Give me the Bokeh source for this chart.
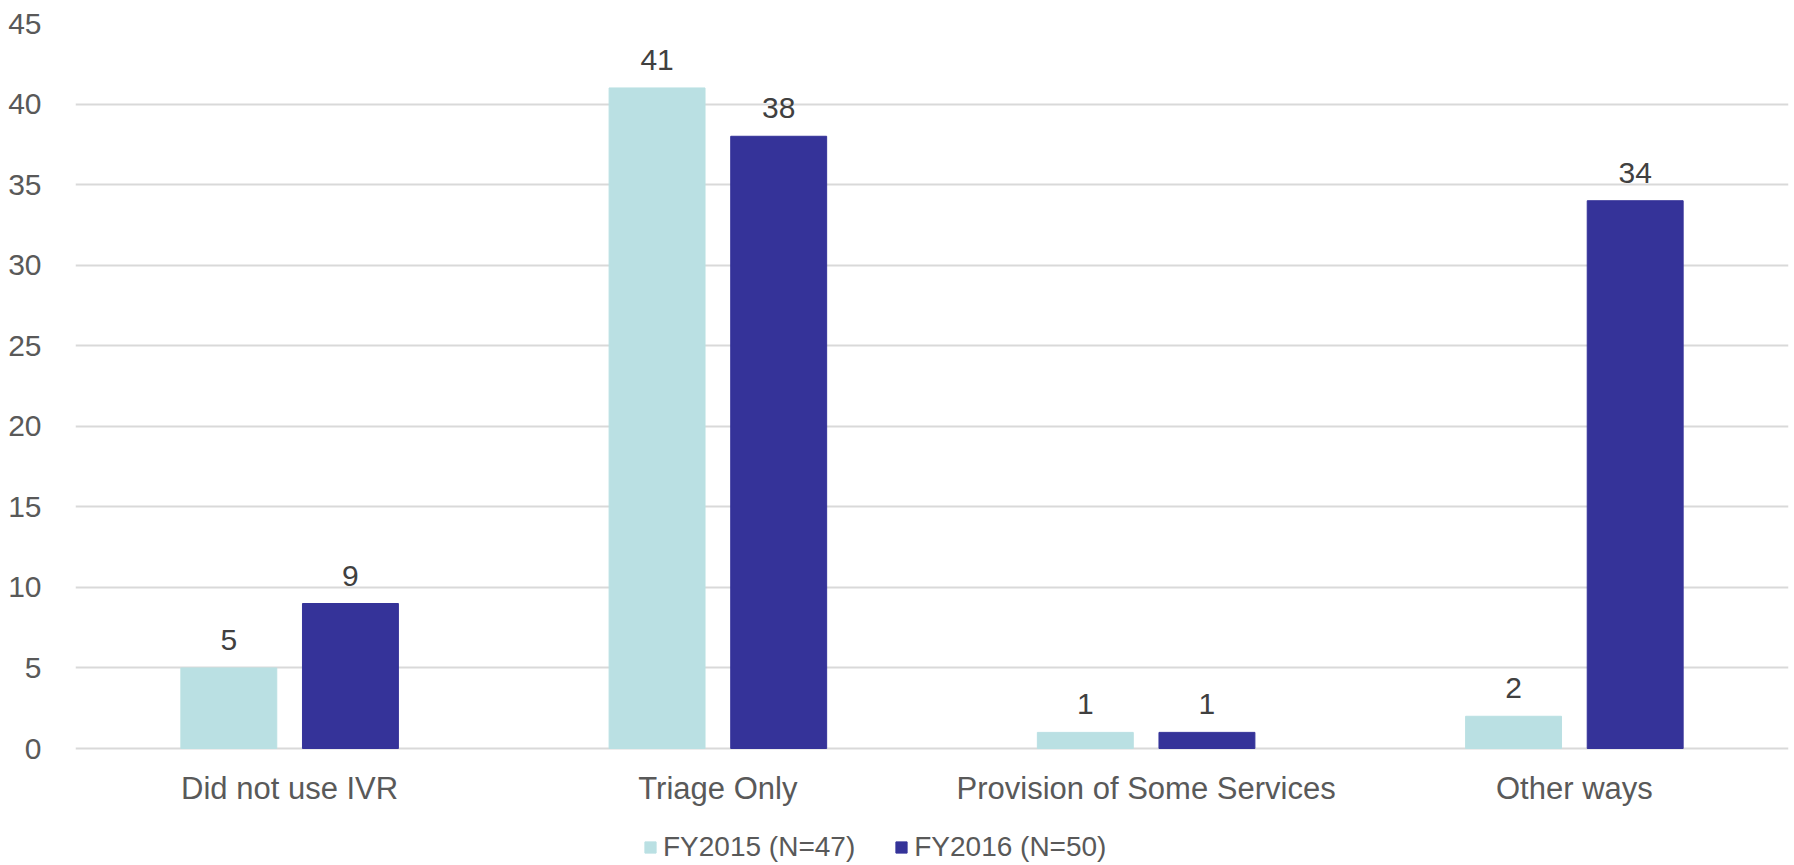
from bokeh.plotting import figure
from bokeh.models import (ColumnDataSource, FactorRange, Range1d, Legend, LegendItem,
                          FixedTicker)
from bokeh.core.properties import value
from bokeh.transform import dodge
from bokeh.embed import file_html
from bokeh.resources import INLINE

# Data
categories = ["Did not use IVR", "Triage Only", "Provision of Some Services", "Other ways"]
fy2015 = [5, 41, 1, 2]
fy2016 = [9, 38, 1, 34]
series_names = ["FY2015 (N=47)", "FY2016 (N=50)"]
y_ticks = [0, 5, 10, 15, 20, 25, 30, 35, 40, 45]

LIGHT = "#BAE0E3"
DARK = "#353399"
GREY = "#595959"
GRID = "#D9D9D9"
FONT = "Liberation Sans"

# Canvas geometry: value axis runs 0..45 over 725 px; the area under the
# zero line (117 px) holds category names and the legend.
W, H = 1794, 865
TOP, PLOT_H, BELOW = 23, 725, 117
y_min = -max(y_ticks) * BELOW / PLOT_H

source = ColumnDataSource(dict(
    cat=categories,
    fy2015=fy2015,
    fy2016=fy2016,
    lbl2015=[str(v) for v in fy2015],
    lbl2016=[str(v) for v in fy2016],
    zero=[0] * len(categories),
))

p = figure(
    x_range=FactorRange(*categories, range_padding=0),
    y_range=Range1d(y_min, max(y_ticks)),
    width=W, height=H,
    min_border_left=75, min_border_right=6, min_border_top=TOP, min_border_bottom=0,
    x_axis_location=None,
    output_backend="svg", toolbar_location=None,
    outline_line_color=None,
)

bw = 0.224
off = 0.142
r1 = p.vbar(x=dodge("cat", -off, range=p.x_range), top="fy2015", width=bw,
            source=source, fill_color=LIGHT, line_color=LIGHT)
r2 = p.vbar(x=dodge("cat", off, range=p.x_range), top="fy2016", width=bw,
            source=source, fill_color=DARK, line_color=DARK)

# value labels above bars
for col, lbl, o in (("fy2015", "lbl2015", -off), ("fy2016", "lbl2016", off)):
    p.text(x=dodge("cat", o, range=p.x_range), y=col, text=lbl, source=source,
           text_align="center", text_baseline="alphabetic", y_offset=-28,
           text_font=value(FONT), text_font_size="30px",
           text_color="#404040")

# category names under the zero line
p.text(x="cat", y="zero", text="cat", source=source,
       text_align="center", text_baseline="alphabetic", y_offset=40,
       text_font=value(FONT), text_font_size="31px", text_color=GREY)

# value axis
p.yaxis.ticker = FixedTicker(ticks=y_ticks)
p.yaxis.axis_line_color = None
p.yaxis.major_tick_line_color = None
p.yaxis.minor_tick_line_color = None
p.yaxis.major_label_standoff = 28
p.yaxis.major_label_text_font_size = "30px"
p.yaxis.major_label_text_color = GREY
p.yaxis.major_label_text_font = FONT

p.xgrid.grid_line_color = None
p.ygrid.ticker = FixedTicker(ticks=y_ticks)
p.ygrid.grid_line_color = GRID
p.ygrid.grid_line_width = 2

legend = Legend(
    items=[LegendItem(label=series_names[0], renderers=[r1]),
           LegendItem(label=series_names[1], renderers=[r2])],
    orientation="horizontal",
    location=(568, 2),
    padding=0, margin=0, spacing=39,
    glyph_width=14, glyph_height=14, label_standoff=6,
    label_text_font=FONT, label_text_font_size="28px", label_text_color=GREY,
    border_line_color=None, background_fill_alpha=0,
)
p.add_layout(legend, "center")

open("out.html", "w").write(file_html(p, INLINE))
